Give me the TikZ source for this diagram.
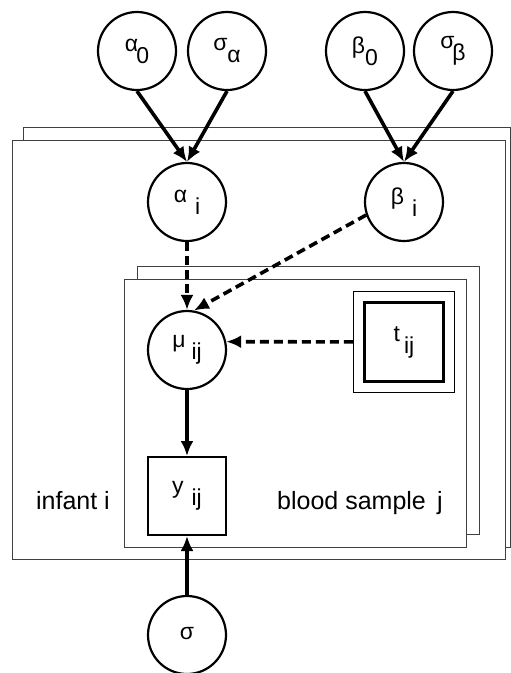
\documentclass[tikz,border=0pt]{standalone}
\usepackage{fontspec}
\setmainfont{Liberation Sans}
\usetikzlibrary{arrows.meta}
% letter followed by a lowered, same-size index
\newcommand\withsub[3][0pt]{#2\kern#1\raisebox{-12pt}{#3}}

\begin{document}
\begin{tikzpicture}[x=1pt,y=-1pt,
  plate/.style={draw=black!75, line width=1pt, fill=white},
  var/.style={circle, draw, line width=2.2pt, minimum size=78pt, inner sep=0pt,
    font=\fontsize{23}{26}\selectfont},
  obs/.style={rectangle, draw, line width=2pt, minimum size=78pt, inner sep=0pt,
    font=\fontsize{23}{26}\selectfont},
  link/.style={line width=3.6pt, -{Latex[length=15pt,width=13pt]}},
  soft/.style={link, dash pattern=on 9pt off 5pt},
  lbl/.style={font=\fontsize{25}{28}\selectfont, inner sep=0pt}
]
\useasboundingbox (0,0) rectangle (511,673);

% plates: infant i (outer), blood sample j (inner), each stacked twice
\draw[plate] (23,127) rectangle (510,547);
\draw[plate] (12,140) rectangle (505,559);
\draw[plate] (137,266) rectangle (479,534);
\draw[plate] (124,279) rectangle (466,547);

% hyperparameters
\node[var] (a0) at (137,51) {\withsub[-2pt]{α}{0}};
\node[var] (sa) at (227,51) {\withsub{σ}{α}};
\node[var] (b0) at (365,51) {\withsub{β}{0}};
\node[var] (sb) at (453,51) {\withsub[-2pt]{σ}{β}};

% infant level
\node[var] (ai) at (187,202) {\withsub[8pt]{α}{i}};
\node[var] (bi) at (404,202) {\withsub[8pt]{β}{i}};

% sample level
\node[var] (mu) at (187,350) {\withsub[6pt]{μ}{ij}};
\node[obs, minimum size=101pt, line width=1.4pt] (t) at (404,342) {};
\node[obs, minimum size=79pt, line width=2.6pt] (tin) at (404,342) {\withsub[4pt]{t}{ij}};
\node[obs] (y) at (187,496) {\withsub[8pt]{y}{ij}};

% observation noise
\node[var] (s) at (187,635) {\raisebox{4pt}{σ}};

% plate labels
\node[lbl, anchor=base] (linf) at (73,509) {infant i};
\node[lbl, anchor=base west] (lblood) at (277,509) {blood sample\hspace{0.45em}j};

% connectors
\draw[link] (a0.south) -- (ai.north);
\draw[link] (sa.south) -- (ai.north);
\draw[link] (b0.south) -- (bi.north);
\draw[link] (sb.south) -- (bi.north);
\draw[soft] (ai) -- (mu);
\draw[soft] (bi.199) -- (mu.80);
\draw[soft] (t) -- (mu.12);
\draw[link] (mu) -- (y);
\draw[link] (s) -- (y);
\end{tikzpicture}
\end{document}
